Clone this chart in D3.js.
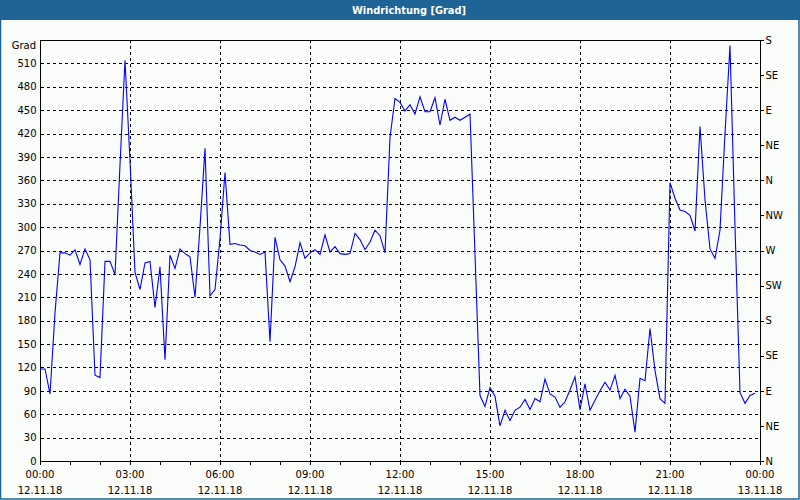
<!DOCTYPE html>
<html>
<head>
<meta charset="utf-8">
<script src="https://cdn.jsdelivr.net/npm/d3@7"></script>
<style>
  html, body { margin: 0; padding: 0; background: #fafcfa; }
  svg { display: block; }
  text { font-family: "DejaVu Sans", Verdana, sans-serif; font-size: 10px; fill: #000; }
</style>
</head>
<body>
<svg id="chart" width="800" height="500"></svg>
<script>
// ---------- data ----------
const chartTitle = "Windrichtung [Grad]";
const unitLabel = "Grad";
const startTime = Date.UTC(2018, 10, 12, 0, 0);   // 12.11.18 00:00
const endTime = Date.UTC(2018, 10, 13, 0, 0);     // 13.11.18 00:00
const sampleMinutes = 10;                          // one reading every 10 minutes
const directionDeg = [
  118, 118, 86, 190, 267, 267, 264, 271, 252, 272, 258, 110,
  107, 256, 256, 239, 380, 514, 385, 242, 220, 254, 256, 197,
  249, 130, 264, 247, 272, 266, 262, 210, 300, 401, 212, 220,
  285, 370, 278, 279, 277, 276, 270, 268, 265, 268, 153, 287,
  258, 250, 230, 249, 280, 260, 267, 271, 265, 290, 268, 275,
  266, 265, 266, 292, 284, 271, 281, 296, 289, 267, 415, 465,
  460, 449, 457, 445, 467, 448, 448, 466, 431, 464, 437, 441,
  437, 441, 445, 265, 84, 70, 94, 83, 45, 65, 52, 65,
  69, 79, 66, 80, 76, 105, 86, 82, 69, 76, 91, 108,
  66, 99, 65, 78, 90, 101, 91, 110, 80, 92, 83, 37,
  106, 103, 170, 116, 80, 74, 357, 337, 322, 320, 315, 295,
  429, 335, 272, 260, 296, 420, 533, 300, 88, 74, 84, 87
];
const leftTicks = [0, 30, 60, 90, 120, 150, 180, 210, 240, 270, 300, 330, 360, 390, 420, 450, 480, 510];
const compassTicks = [0, 45, 90, 135, 180, 225, 270, 315, 360, 405, 450, 495, 540];
const compassLabels = ["N", "NE", "E", "SE", "S", "SW", "W", "NW", "N", "NE", "E", "SE", "S"];
const yMax = 540;

// ---------- layout ----------
const W = 800, H = 500;
const plot = { left: 40, right: 760, top: 40, bottom: 461 };
const barColor = "#1e6496";

const svg = d3.select("#chart");

svg.append("rect").attr("x", 0).attr("y", 0).attr("width", W).attr("height", H).attr("fill", "#fafcfa");

// title bar
svg.append("rect").attr("x", 0).attr("y", 0).attr("width", W).attr("height", 20).attr("fill", barColor);
svg.append("text")
  .attr("x", 409).attr("y", 11)
  .attr("text-anchor", "middle").attr("dominant-baseline", "middle")
  .style("fill", "#fff").style("font-weight", "bold").style("font-size", "10.5px")
  .attr("textLength", 114).attr("lengthAdjust", "spacingAndGlyphs")
  .text(chartTitle);

// outer border
svg.append("rect").attr("x", 0.5).attr("y", 0.5).attr("width", W - 1.5).attr("height", H - 1.5)
  .attr("fill", "none").attr("stroke", barColor).attr("stroke-width", 1.5);

// scales
const x = d3.scaleUtc().domain([new Date(startTime), new Date(endTime)]).range([plot.left, plot.right]);
const y = d3.scaleLinear().domain([0, yMax]).range([plot.bottom, plot.top]);

const data = directionDeg.map((v, i) => ({ t: new Date(startTime + i * sampleMinutes * 60000), v }));

// grid
const grid = svg.append("g").attr("shape-rendering", "crispEdges");
grid.selectAll("line.h").data(leftTicks.filter(d => d > 0)).join("line")
  .attr("x1", plot.left + 1).attr("x2", plot.right)
  .attr("y1", d => Math.round(y(d)) + 0.5).attr("y2", d => Math.round(y(d)) + 0.5)
  .attr("stroke", "#000").attr("stroke-dasharray", "3,3");
const majorHours = d3.utcHour.every(3).range(new Date(startTime + 1), new Date(endTime));
grid.selectAll("line.v").data(majorHours).join("line")
  .attr("x1", d => Math.round(x(d)) + 0.5).attr("x2", d => Math.round(x(d)) + 0.5)
  .attr("y1", plot.top).attr("y2", plot.bottom)
  .attr("stroke", "#000").attr("stroke-dasharray", "3,3");

// axes
const axisLeft = d3.axisLeft(y).tickValues(leftTicks).tickSize(0).tickPadding(4);
const gl = svg.append("g").attr("transform", `translate(${plot.left + 0.5},0)`).call(axisLeft);
gl.select(".domain").remove();
gl.selectAll("text").style("font-family", '"DejaVu Sans", sans-serif').style("font-size", "10px");

svg.append("text").attr("x", 36).attr("y", 46).attr("text-anchor", "end")
  .attr("dominant-baseline", "middle").text(unitLabel);

const axisRight = d3.axisRight(y).tickValues(compassTicks).tickSize(3).tickPadding(2)
  .tickFormat((d, i) => compassLabels[i]);
const gr = svg.append("g").attr("transform", `translate(${plot.right + 0.5},0)`).call(axisRight);
gr.select(".domain").remove();
gr.selectAll("line").attr("shape-rendering", "crispEdges");
gr.selectAll("text").style("font-family", '"DejaVu Sans", sans-serif').style("font-size", "10px");

const axisBottom = d3.axisBottom(x).ticks(d3.utcHour.every(1)).tickSize(3).tickFormat("");
const gb = svg.append("g").attr("transform", `translate(0,${plot.bottom + 0.5})`).call(axisBottom);
gb.select(".domain").remove();
gb.selectAll("line").attr("shape-rendering", "crispEdges");

const labelHours = d3.utcHour.every(3).range(new Date(startTime), new Date(endTime + 1));
const fmtTime = d3.utcFormat("%H:%M");
const fmtDate = d3.utcFormat("%d.%m.%y");
const lbl = svg.append("g");
lbl.selectAll("text.t").data(labelHours).join("text")
  .attr("x", d => x(d)).attr("y", 475).attr("text-anchor", "middle").attr("dominant-baseline", "middle")
  .text(d => fmtTime(d));
lbl.selectAll("text.d").data(labelHours).join("text")
  .attr("x", d => x(d)).attr("y", 491).attr("text-anchor", "middle").attr("dominant-baseline", "middle")
  .text(d => fmtDate(d));

// frame
svg.append("rect")
  .attr("x", plot.left + 0.5).attr("y", plot.top + 0.5)
  .attr("width", plot.right - plot.left).attr("height", plot.bottom - plot.top)
  .attr("fill", "none").attr("stroke", "#000").attr("shape-rendering", "crispEdges");

// data line
const line = d3.line().x(d => x(d.t)).y(d => y(d.v));
svg.append("path").datum(data)
  .attr("d", line)
  .attr("fill", "none").attr("stroke", "#0000ff").attr("stroke-width", 1.1);
</script>
</body>
</html>
